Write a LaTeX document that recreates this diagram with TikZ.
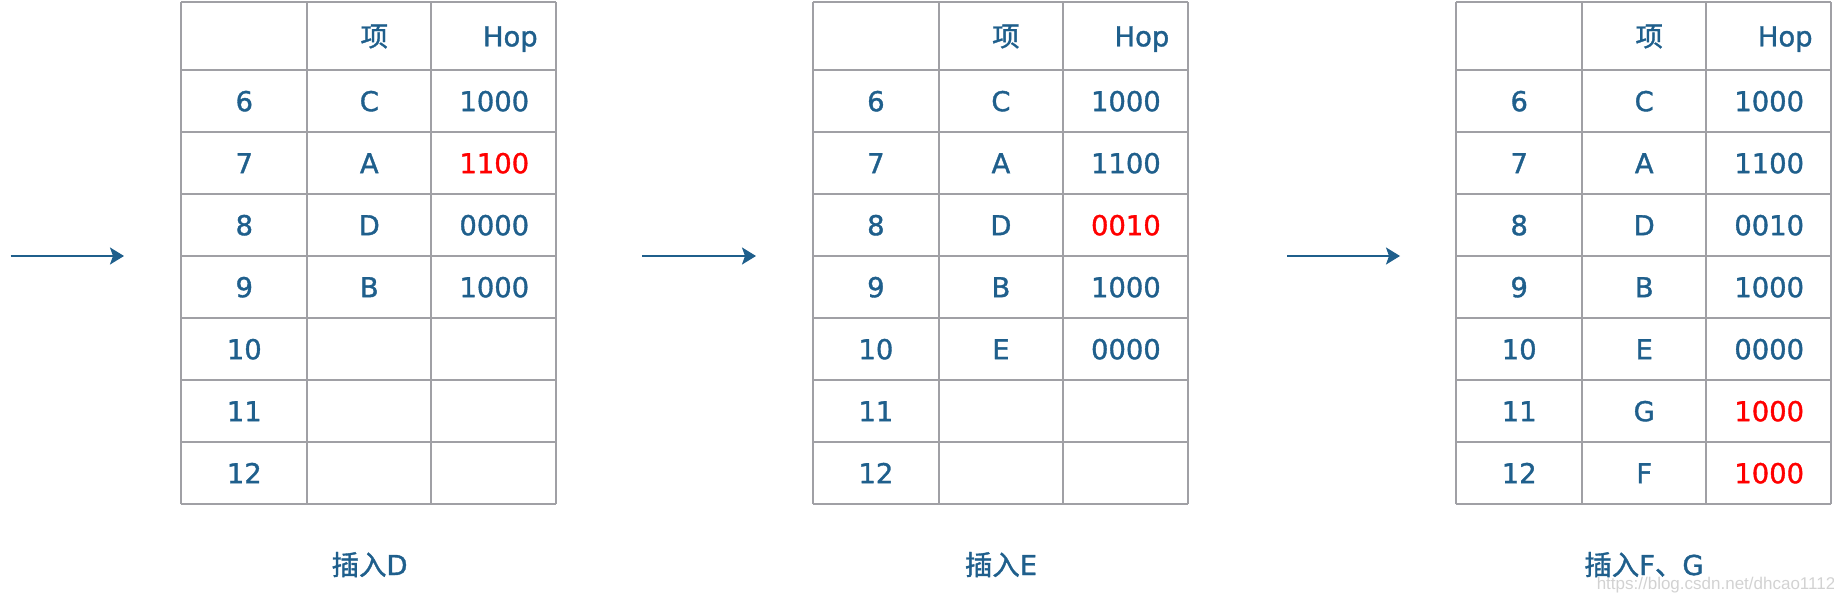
\documentclass[tikz,border=0pt]{standalone}
\usepackage{fontspec}
\setmainfont[RawFeature={embolden=1.3}]{DejaVu Sans}
\newfontfamily\cjkfont[RawFeature={embolden=1.3}]{Noto Sans CJK SC}
\newfontfamily\markfont{Liberation Sans}
\usetikzlibrary{arrows.meta}

\definecolor{hopblue}{RGB}{31,95,140}
\definecolor{gridgray}{RGB}{160,160,165}

\tikzset{
  cell/.style={text=hopblue, font=\fontsize{13.7}{16}\selectfont,
    inner sep=0pt, text height=10pt, text depth=0pt, anchor=center},
  newhop/.style={cell, text=red},
  gridline/.style={draw=gridgray, line width=1pt},
  flow/.style={draw=hopblue, line width=1pt,
    -{Stealth[length=7pt,width=8.5pt,inset=1.5pt]}},
}

\begin{document}
\begin{tikzpicture}[x=0.5pt, y=-0.5pt]
\useasboundingbox (0,0) rectangle (1834,598);

%% grids of the three tables
\foreach \X in {181.3, 812.9, 1456.2} {
    \foreach \c in {0, 126, 250, 375}
        \draw[gridline] (\X+\c, 2.3) -- (\X+\c, 504.1);
    \draw[gridline] (\X, 2.3) -- (\X+375, 2.3);
    \foreach \k in {0,...,7}
        \draw[gridline] (\X, 70.2+\k*62) -- (\X+375, 70.2+\k*62);
}

%% headers
\foreach \t/\X in {1/181.3, 2/812.9, 3/1456.2} {
    \node[cell] (t\t-item) at (\X+193, 36.3) {\cjkfont 项};
    \node[cell] (t\t-hop)  at (\X+329, 36.3) {Hop};
}

%% table 1 : insert D
\foreach \r/\k/\h/\s in {6/C/1000/cell, 7/A/1100/newhop, 8/D/0000/cell, 9/B/1000/cell,
                         10//{}/cell, 11//{}/cell, 12//{}/cell} {
    \node[cell]  (t1-\r)  at (181.3+63,  101.2+\r*62-372) {\r};
    \node[cell]  (t1-\r k) at (181.3+188, 101.2+\r*62-372) {\k};
    \node[\s]    (t1-\r h) at (181.3+313, 101.2+\r*62-372) {\h};
}

%% table 2 : insert E
\foreach \r/\k/\h/\s in {6/C/1000/cell, 7/A/1100/cell, 8/D/0010/newhop, 9/B/1000/cell,
                         10/E/0000/cell, 11//{}/cell, 12//{}/cell} {
    \node[cell]  (t2-\r)  at (812.9+63,  101.2+\r*62-372) {\r};
    \node[cell]  (t2-\r k) at (812.9+188, 101.2+\r*62-372) {\k};
    \node[\s]    (t2-\r h) at (812.9+313, 101.2+\r*62-372) {\h};
}

%% table 3 : insert F, G
\foreach \r/\k/\h/\s in {6/C/1000/cell, 7/A/1100/cell, 8/D/0010/cell, 9/B/1000/cell,
                         10/E/0000/cell, 11/G/1000/newhop, 12/F/1000/newhop} {
    \node[cell]  (t3-\r)  at (1456.2+63,  101.2+\r*62-372) {\r};
    \node[cell]  (t3-\r k) at (1456.2+188, 101.2+\r*62-372) {\k};
    \node[\s]    (t3-\r h) at (1456.2+313, 101.2+\r*62-372) {\h};
}

%% captions
\node[cell] (cap1) at (369.6, 565) {{\cjkfont 插入}D};
\node[cell] (cap2) at (1001, 565) {{\cjkfont 插入}E};
\node[cell] (cap3) at (1644, 565) {{\cjkfont 插入}F{\cjkfont 、}G};

%% arrows
\coordinate (a1s) at (10.5, 256);  \coordinate (a1e) at (124, 256);
\coordinate (a2s) at (642, 256);   \coordinate (a2e) at (756, 256);
\coordinate (a3s) at (1287, 256);  \coordinate (a3e) at (1400, 256);
\draw[flow] (a1s) -- (a1e);
\draw[flow] (a2s) -- (a2e);
\draw[flow] (a3s) -- (a3e);

%% watermark
\node[text=gray!35, font=\markfont\fontsize{8.5}{10}\selectfont, inner sep=0pt]
    (mark) at (1716, 585) {https://blog.csdn.net/dhcao1112};
\end{tikzpicture}
\end{document}
